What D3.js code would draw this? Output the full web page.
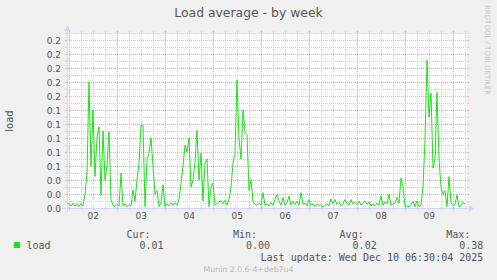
<!DOCTYPE html>
<html>
<head>
<meta charset="utf-8">
<script src="https://cdn.jsdelivr.net/npm/d3@7"></script>
<style>
  body { margin: 0; background: #f0f0f0; }
  svg { display: block; }
  text { font-family: 'DejaVu Sans', sans-serif; fill: #555; }
  .mono { font-family: 'DejaVu Sans Mono', monospace; font-size: 10px; }
</style>
</head>
<body>
<div id="chart"></div>
<script>
const title = 'Load average - by week';
const yLabel = 'load';
const seriesName = 'load';

// hourly samples, first one at startTime
const startTime = new Date(2025, 11, 1, 22, 50);
const stepHours = 1;
const loadValues = [
    0.009, 0.005, 0.003, 0.007, 0.003, 0.006, 0.002, 0.006, 0.003, 0.02,
    0.05, 0.18, 0.06, 0.14, 0.045, 0.10, 0.116, 0.018, 0.11, 0.04,
    0.06, 0.109, 0.012, 0.004, 0.002, 0.005, 0.003, 0.05, 0.003, 0.006,
    0.002, 0.005, 0.003, 0.026, 0.01, 0.04, 0.064, 0.118, 0.118, 0.002,
    0.069, 0.078, 0.10, 0.06, 0.02, 0.025, 0.002, 0.008, 0.033, 0.002,
    0.006, 0.003, 0.007, 0.004, 0.008, 0.004, 0.012, 0.035, 0.06, 0.09,
    0.08, 0.10, 0.03, 0.04, 0.065, 0.111, 0.04, 0.078, 0.01, 0.064,
    0.07, 0.002, 0.03, 0.036, 0.004, 0.006, 0.009, 0.01, 0.006, 0.011,
    0.004, 0.012, 0.03, 0.064, 0.078, 0.183, 0.10, 0.07, 0.14, 0.109,
    0.105, 0.025, 0.04, 0.01, 0.005, 0.004, 0.007, 0.004, 0.022, 0.004,
    0.006, 0.003, 0.008, 0.004, 0.012, 0.019, 0.01, 0.004, 0.015, 0.004,
    0.008, 0.017, 0.004, 0.009, 0.005, 0.01, 0.004, 0.022, 0.005, 0.007,
    0.003, 0.012, 0.004, 0.006, 0.002, 0.006, 0.003, 0.005, 0.001, 0.004,
    0.006, 0.003, 0.013, 0.006, 0.012, 0.005, 0.008, 0.003, 0.006, 0.012,
    0.006, 0.004, 0.012, 0.006, 0.008, 0.005, 0.01, 0.004, 0.007, 0.01,
    0.005, 0.009, 0.003, 0.006, 0.003, 0.007, 0.004, 0.017, 0.004, 0.009,
    0.006, 0.02, 0.004, 0.006, 0.007, 0.015, 0.007, 0.043, 0.03, 0.002,
    0.003, 0.002, 0.005, 0.009, 0.002, 0.01, 0.002, 0.004, 0.03, 0.097,
    0.211, 0.13, 0.164, 0.057, 0.07, 0.165, 0.07, 0.03, 0.019, 0.025,
    0.002, 0.045, 0.008, 0.003, 0.005, 0.019, 0.002, 0.003, 0.008, 0.006
];

const yMajorTicks = [0, 0.02, 0.04, 0.06, 0.08, 0.10, 0.12, 0.14, 0.16, 0.18, 0.20, 0.22, 0.24];
const yMinorTicks = [0.01, 0.03, 0.05, 0.07, 0.09, 0.11, 0.13, 0.15, 0.17, 0.19, 0.21, 0.23, 0.25];
const dayLabels = ['02', '03', '04', '05', '06', '07', '08', '09'];

const statNames = ['Cur:', 'Min:', 'Avg:', 'Max:'];
const statValues = ['0.01', '0.00', '0.02', '0.38'];
const lastUpdate = 'Last update: Wed Dec 10 06:30:04 2025';
const footer = 'Munin 2.0.6-4+deb7u4';
const watermark = 'RRDTOOL / TOBI OETIKER';

const width = 497;
const height = 280;
const plot = { left: 67, top: 33, width: 400, height: 175 };
const X0 = plot.left, X1 = plot.left + plot.width;
const Y0 = plot.top + plot.height, Y1 = plot.top;

const gridColor = '#d0d0d0';
const mgridColor = '#ffa0a0';
const axisColor = '#cfd6f8';
const lineColor = '#1ee01e';

const px = (v) => Math.round(v) + 0.5;

const svg = d3.select('#chart')
    .append('svg')
    .attr('width', width)
    .attr('height', height)
    .attr('viewBox', [0, 0, width, height]);

svg.append('rect')
    .attr('width', width)
    .attr('height', height)
    .attr('fill', '#f0f0f0');

svg.append('rect')
    .attr('x', X0)
    .attr('y', Y1)
    .attr('width', plot.width)
    .attr('height', plot.height)
    .attr('fill', '#ffffff');

const times = loadValues.map((d, i) => d3.timeHour.offset(startTime, i * stepHours));
const endTime = d3.timeHour.offset(startTime, 200);

const x = d3.scaleTime()
    .domain([startTime, endTime])
    .range([X0, X1]);

const y = d3.scaleLinear()
    .domain([0, 0.25])
    .range([Y0, Y1]);

// grid
const grid = svg.append('g').attr('shape-rendering', 'crispEdges');

const hLine = (v, color) => {
    const yy = px(y(v));
    grid.append('line').attr('x1', X0 - 2).attr('x2', X0).attr('y1', yy).attr('y2', yy).attr('stroke', color);
    grid.append('line').attr('x1', X1).attr('x2', X1 + 2).attr('y1', yy).attr('y2', yy).attr('stroke', color);
    grid.append('line').attr('x1', X0).attr('x2', X1).attr('y1', yy).attr('y2', yy)
        .attr('stroke', color).attr('stroke-dasharray', '1,1');
};
const vLine = (t, color) => {
    const xx = px(x(t));
    grid.append('line').attr('x1', xx).attr('x2', xx).attr('y1', Y1 - 2).attr('y2', Y1).attr('stroke', color);
    grid.append('line').attr('x1', xx).attr('x2', xx).attr('y1', Y0).attr('y2', Y0 + 2).attr('stroke', color);
    grid.append('line').attr('x1', xx).attr('x2', xx).attr('y1', Y1).attr('y2', Y0)
        .attr('stroke', color).attr('stroke-dasharray', '1,1');
};

const sixHours = d3.timeHour.every(6).range(startTime, endTime);
const midnights = d3.timeDay.range(startTime, endTime);

yMinorTicks.forEach((v) => hLine(v, gridColor));
sixHours.filter((t) => t.getHours() !== 0).forEach((t) => vLine(t, gridColor));
yMajorTicks.forEach((v) => hLine(v, mgridColor));
midnights.forEach((t) => vLine(t, mgridColor));

// series
const line = d3.line()
    .x((d, i) => x(times[i]))
    .y((d) => y(d));

svg.append('path')
    .datum(loadValues)
    .attr('d', line)
    .attr('fill', 'none')
    .attr('stroke', lineColor)
    .attr('stroke-width', 1);

// axes + arrows
const axes = svg.append('g').attr('shape-rendering', 'crispEdges');
axes.append('line')
    .attr('x1', X0 - 4).attr('x2', X1 + 4)
    .attr('y1', Y0 + 0.5).attr('y2', Y0 + 0.5)
    .attr('stroke', axisColor);
axes.append('line')
    .attr('x1', X0 + 0.5).attr('x2', X0 + 0.5)
    .attr('y1', Y0 + 4).attr('y2', Y1 - 4)
    .attr('stroke', axisColor);
svg.append('path')
    .attr('d', `M${X1 + 2},${Y0 - 3}L${X1 + 2},${Y0 + 4}L${X1 + 7},${Y0 + 0.5}Z`)
    .attr('fill', axisColor);
svg.append('path')
    .attr('d', `M${X0 - 3},${Y1 - 2}L${X0 + 4},${Y1 - 2}L${X0 + 0.5},${Y1 - 7}Z`)
    .attr('fill', axisColor);

// tick labels
svg.append('g')
    .selectAll('text')
    .data(yMajorTicks)
    .join('text')
    .attr('x', 61)
    .attr('y', (d) => px(y(d)) + 3.3)
    .attr('text-anchor', 'end')
    .style('font-size', '9px')
    .text((d) => d3.format('.1f')(d));

svg.append('g')
    .selectAll('text')
    .data(dayLabels)
    .join('text')
    .attr('x', (d) => x(new Date(2025, 11, +d, 12)))
    .attr('y', 219)
    .attr('text-anchor', 'middle')
    .style('font-size', '9px')
    .text((d) => d);

// titles
svg.append('text')
    .attr('x', 248.5)
    .attr('y', 17)
    .attr('text-anchor', 'middle')
    .style('font-size', '12.4px')
    .text(title);

svg.append('text')
    .attr('transform', 'translate(13,121) rotate(-90)')
    .attr('text-anchor', 'middle')
    .style('font-size', '10px')
    .text(yLabel);

svg.append('text')
    .attr('transform', 'translate(485,5) rotate(90)')
    .style('font-size', '7px')
    .style('fill', '#c8c8c8')
    .text(watermark);

// legend
svg.append('rect')
    .attr('x', 14)
    .attr('y', 242)
    .attr('width', 6)
    .attr('height', 6)
    .attr('fill', lineColor);

svg.append('text')
    .attr('class', 'mono')
    .attr('x', 26.5)
    .attr('y', 248.5)
    .text(seriesName);

const colEnd = [163.5, 270, 376.7, 483.3];

svg.append('g')
    .selectAll('text')
    .data(statNames)
    .join('text')
    .attr('class', 'mono')
    .attr('x', (d, i) => colEnd[i] - 13)
    .attr('y', 237.5)
    .attr('text-anchor', 'end')
    .text((d) => d);

svg.append('g')
    .selectAll('text')
    .data(statValues)
    .join('text')
    .attr('class', 'mono')
    .attr('x', (d, i) => colEnd[i])
    .attr('y', 248.5)
    .attr('text-anchor', 'end')
    .text((d) => d);

svg.append('text')
    .attr('class', 'mono')
    .attr('x', 483.3)
    .attr('y', 260.5)
    .attr('text-anchor', 'end')
    .text(lastUpdate);

svg.append('text')
    .attr('x', 248.5)
    .attr('y', 272)
    .attr('text-anchor', 'middle')
    .style('font-size', '7.8px')
    .style('fill', '#bbbbbb')
    .text(footer);
</script>
</body>
</html>
